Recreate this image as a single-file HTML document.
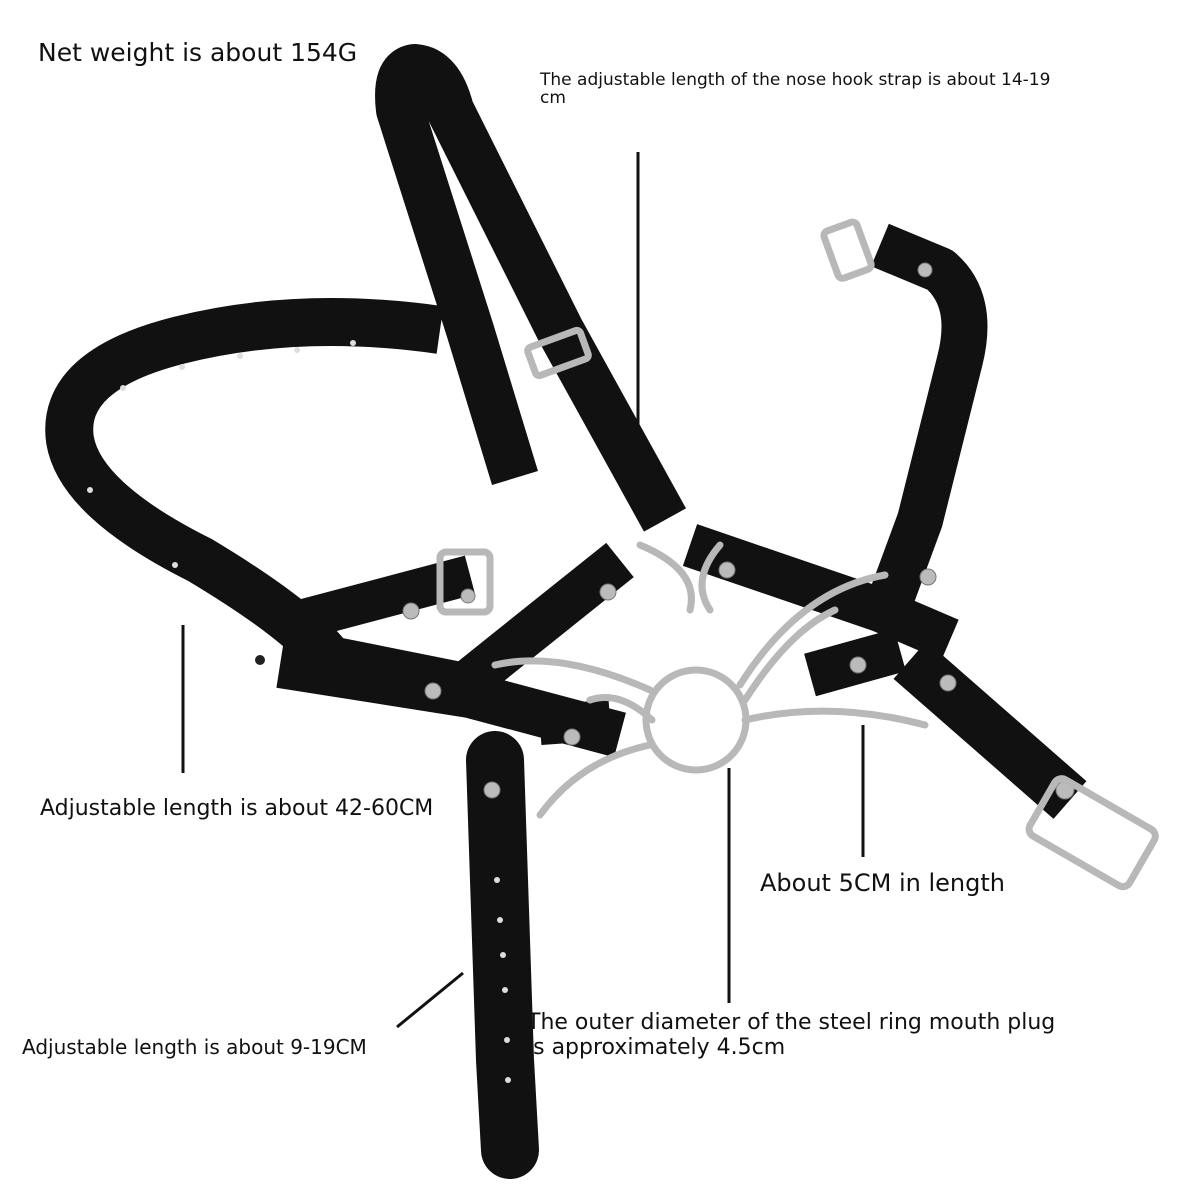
<!DOCTYPE html>
<html><head><meta charset="utf-8"><style>
html,body{margin:0;padding:0;background:#fff;}
body{width:1200px;height:1200px;position:relative;overflow:hidden;font-family:"DejaVu Sans","Liberation Sans",sans-serif;color:#111;}
.t{position:absolute;white-space:nowrap;}
</style></head><body>
<svg width="1200" height="1200" style="position:absolute;left:0;top:0">
<g fill="none" stroke="#111" stroke-linejoin="round">
<path d="M515,478 L470,330 L400,110 Q395,70 415,68 Q440,70 450,110 L560,330 L665,520" stroke-width="48" stroke-linecap="butt"/>
<path d="M440,330 Q300,310 180,340 Q60,370 70,440 Q80,500 200,560 Q300,620 330,660 L480,690" stroke-width="48"/>
<path d="M300,620 L470,575" stroke-width="40"/>
<path d="M880,245 L940,270 Q975,300 960,360 L920,520 L885,615" stroke-width="46"/>
<path d="M280,665 L470,695 L620,735" stroke-width="46"/>
<path d="M620,560 L470,680" stroke-width="44"/>
<path d="M690,545 L880,610 L950,640" stroke-width="44"/>
<path d="M810,675 L900,650" stroke-width="44"/>
<path d="M910,660 L1070,800" stroke-width="50"/>
<path d="M540,725 L610,720" stroke-width="40"/>
<path d="M495,760 L505,1060 L510,1150" stroke-width="58" stroke-linecap="round"/>
</g>
<g fill="#222"><circle cx="260" cy="660" r="5"/></g>
<g fill="#bbb" stroke="#777" stroke-width="1">
<circle cx="433" cy="691" r="8"/><circle cx="608" cy="592" r="8"/><circle cx="727" cy="570" r="8"/><circle cx="928" cy="577" r="8"/><circle cx="572" cy="737" r="8"/><circle cx="858" cy="665" r="8"/><circle cx="948" cy="683" r="8"/><circle cx="411" cy="611" r="8"/><circle cx="492" cy="790" r="8"/><circle cx="468" cy="596" r="7"/><circle cx="925" cy="270" r="7"/><circle cx="1065" cy="790" r="9"/>
</g>
<g fill="#ddd"><circle cx="123" cy="388" r="3"/><circle cx="182" cy="367" r="3"/><circle cx="240" cy="356" r="3"/><circle cx="297" cy="350" r="3"/><circle cx="353" cy="343" r="3"/><circle cx="175" cy="565" r="3"/><circle cx="90" cy="490" r="3"/><circle cx="497" cy="880" r="3"/><circle cx="500" cy="920" r="3"/><circle cx="503" cy="955" r="3"/><circle cx="505" cy="990" r="3"/><circle cx="507" cy="1040" r="3"/><circle cx="508" cy="1080" r="3"/></g>
<g fill="none" stroke="#b8b8b8" stroke-width="7" stroke-linecap="round">
<circle cx="696" cy="720" r="50"/>
<path d="M650,690 Q560,650 495,665"/>
<path d="M740,685 Q800,590 885,575"/>
<path d="M745,720 Q830,700 925,725"/>
<path d="M650,745 Q580,760 540,815"/>
<path d="M745,700 Q790,630 835,610"/>
<path d="M652,720 Q620,690 590,700"/>
<path d="M640,545 Q700,570 690,610 M720,545 Q690,580 710,610"/>
<rect x="440" y="552" width="50" height="60" rx="6"/>
<rect x="1035" y="800" width="115" height="65" rx="8" transform="rotate(30 1092 832)"/>
<rect x="830" y="225" width="35" height="50" rx="5" transform="rotate(-20 848 250)"/>
<rect x="530" y="338" width="56" height="30" rx="4" transform="rotate(-20 558 353)"/>
</g>
<g stroke="#111" stroke-width="3">
<line x1="638" y1="152" x2="638" y2="432"/>
<line x1="183" y1="625" x2="183" y2="773"/>
<line x1="863" y1="725" x2="863" y2="857"/>
<line x1="729" y1="768" x2="729" y2="1003"/>
<line x1="463" y1="973" x2="397" y2="1027"/>
</g>
</svg>
<div class="t" style="left:38px;top:38px;font-size:25px">Net weight is about 154G</div>
<div class="t" style="left:540px;top:71px;font-size:17px;line-height:18px">The adjustable length of the nose hook strap is about 14-19<br>cm</div>
<div class="t" style="left:40px;top:796px;font-size:22px">Adjustable length is about 42-60CM</div>
<div class="t" style="left:760px;top:869px;font-size:24px">About 5CM in length</div>
<div class="t" style="left:22px;top:1035px;font-size:20px">Adjustable length is about 9-19CM</div>
<div class="t" style="left:527px;top:1010px;font-size:22px;line-height:25px">The outer diameter of the steel ring mouth plug<br>is approximately 4.5cm</div>
</body></html>
